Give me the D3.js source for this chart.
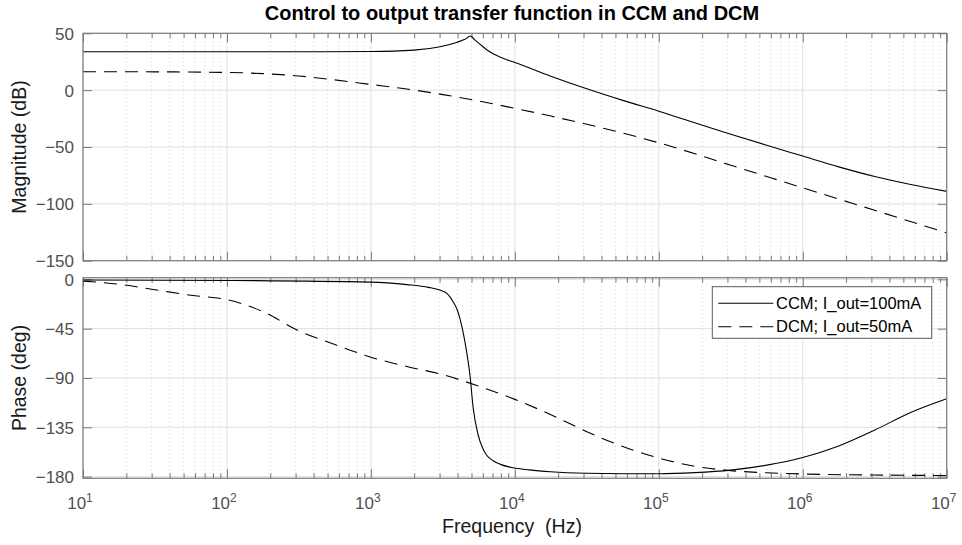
<!DOCTYPE html>
<html>
<head>
<meta charset="utf-8">
<script src="https://cdn.jsdelivr.net/npm/d3@7"></script>
<style>
  html, body { margin: 0; padding: 0; background: #fff; }
  svg { display: block; }
  text { font-family: "Liberation Sans", Arial, Helvetica, sans-serif; }
</style>
</head>
<body>
<svg id="chart" width="962" height="545"></svg>
<script>
// Bode data: frequency (Hz) with magnitude (dB) / phase (deg)
const ccmMagHz = [10, 100, 316, 1000, 1995, 3020, 3981, 4498, 4920, 5248, 5715, 6310, 7079, 7943, 8913, 10000, 17783, 31623, 56234, 1e5, 177828, 316228, 562341, 1e6, 1778279, 3162278, 5623413, 1e7];
const ccmMagDb = [33.8, 33.8, 33.8, 34.0, 35.2, 38.2, 42.2, 44.7, 47.6, 44.5, 40.5, 36.0, 32.0, 29.0, 26.5, 24.3, 12.3, 1.2, -9.0, -18.5, -28.7, -38.8, -48.5, -58.0, -67.5, -76.0, -83.0, -89.0];

const dcmMagHz = [10, 31.6, 100, 178, 316, 562, 1000, 1778, 3162, 5623, 10000, 17783, 31623, 56234, 1e5, 316228, 1e6, 3162278, 1e7];
const dcmMagDb = [16.2, 16.1, 15.6, 14.5, 12.5, 9.0, 5.0, 1.0, -3.9, -9.6, -16.0, -22.8, -30.0, -37.8, -46.3, -66.0, -85.9, -105.7, -125.5];

const ccmPhaseHz = [10, 100, 1000, 1778, 2512, 3013, 3388, 3724, 3981, 4150, 4498, 4875, 5140, 5559, 6026, 6353, 7079, 7943, 9727, 12589, 17783, 31623, 56234, 1e5, 177828, 316228, 562341, 1e6, 1778279, 3162278, 5623413, 1e7];
const ccmPhaseDeg = [-0.6, -1.0, -2.5, -4.8, -7.3, -9.8, -13, -20.4, -28, -35.6, -56.9, -87.3, -117.7, -142, -155, -160.3, -165.5, -168.8, -171.9, -173.8, -175.5, -176.9, -177.3, -177.3, -176.3, -174, -169.5, -162.5, -152, -137.5, -121.5, -109];

const dcmPhaseHz = [10, 17.8, 31.6, 56.2, 100, 178, 316, 562, 1000, 1778, 3162, 5623, 10000, 17783, 31623, 56234, 1e5, 177828, 316228, 562341, 1e6, 3162278, 1e7];
const dcmPhaseDeg = [-1.6, -4.5, -9.5, -14.5, -18.5, -29.5, -47, -59.5, -71, -79.5, -87, -97.5, -109.5, -123.5, -139, -152.5, -163, -170.5, -174.5, -176.5, -177.6, -178.5, -179];

const legendLabels = ["CCM; I_out=100mA", "DCM; I_out=50mA"];
const magTicks = [50, 0, -50, -100, -150];
const phaseTicks = [0, -45, -90, -135, -180];
const decadeTicks = [1e1, 1e2, 1e3, 1e4, 1e5, 1e6, 1e7];

const svg = d3.select("#chart");
const left = 83, right = 946.7;
const magTop = 33.3, magBottom = 260.7;
const phTop = 277.7, phBottom = 478.3;

const x = d3.scaleLog().domain([1e1, 1e7]).range([left, right]);
const yMag = d3.scaleLinear().domain([-150, 50]).range([magBottom, magTop]);
const yPh = d3.scaleLinear().domain([-181.5, 1.5]).range([phBottom, phTop]);

// minor decade ticks 2..9 x 10^k
const minorTicks = [];
for (let k = 1; k < 7; k++) for (let m = 2; m <= 9; m++) minorTicks.push(m * Math.pow(10, k));

const gridMajor = "#dfdfdf", gridMinor = "#c4c4c4", axisCol = "#7a7a7a", tickText = "#505050";

function panel(id, y, top, bottom, ticks, series) {
  const g = svg.append("g");
  // minor vertical grid (dotted)
  g.selectAll(null).data(minorTicks).join("line")
    .attr("x1", d => x(d)).attr("x2", d => x(d))
    .attr("y1", top).attr("y2", bottom)
    .attr("stroke", gridMinor).attr("stroke-width", 0.8).attr("stroke-dasharray", "1,3");
  // major grid
  g.selectAll(null).data(decadeTicks).join("line")
    .attr("x1", d => x(d)).attr("x2", d => x(d))
    .attr("y1", top).attr("y2", bottom)
    .attr("stroke", gridMajor).attr("stroke-width", 1);
  g.selectAll(null).data(ticks).join("line")
    .attr("x1", left).attr("x2", right)
    .attr("y1", d => y(d)).attr("y2", d => y(d))
    .attr("stroke", gridMajor).attr("stroke-width", 1);

  // axes: ticks drawn inward on all four sides
  const styleAxis = sel => {
    sel.select(".domain").remove();
    sel.selectAll(".tick line").attr("stroke", axisCol).attr("stroke-width", 1);
    sel.selectAll(".tick text").attr("fill", tickText).attr("font-size", 17);
  };
  g.append("g").attr("transform", `translate(0,${bottom})`)
    .call(d3.axisBottom(x).tickValues(minorTicks).tickSize(-5).tickSizeOuter(0).tickFormat(""))
    .call(styleAxis);
  g.append("g").attr("transform", `translate(0,${top})`)
    .call(d3.axisTop(x).tickValues(minorTicks).tickSize(-5).tickSizeOuter(0).tickFormat(""))
    .call(styleAxis);
  g.append("g").attr("transform", `translate(0,${top})`)
    .call(d3.axisTop(x).tickValues(decadeTicks).tickSize(-9).tickSizeOuter(0).tickFormat(""))
    .call(styleAxis);
  g.append("g").attr("transform", `translate(0,${bottom})`)
    .call(d3.axisBottom(x).tickValues(decadeTicks).tickSize(-9).tickSizeOuter(0).tickFormat(""))
    .call(styleAxis);
  g.append("g").attr("transform", `translate(${left},0)`)
    .call(d3.axisLeft(y).tickValues(ticks).tickSize(-9).tickPadding(9).tickSizeOuter(0))
    .call(styleAxis)
    .selectAll(".tick text").attr("dy", "0.35em");
  g.append("g").attr("transform", `translate(${right},0)`)
    .call(d3.axisRight(y).tickValues(ticks).tickSize(-9).tickSizeOuter(0).tickFormat(""))
    .call(styleAxis);

  // curves
  const clipId = "clip-" + id;
  svg.append("clipPath").attr("id", clipId).append("rect")
    .attr("x", left).attr("y", top).attr("width", right - left).attr("height", bottom - top);
  const line = d3.line().x(d => x(d[0])).y(d => y(d[1])).curve(d3.curveMonotoneX);
  series.forEach((s, i) => {
    g.append("path")
      .datum(s.hz.map((f, j) => [f, s.v[j]]))
      .attr("clip-path", `url(#${clipId})`)
      .attr("fill", "none").attr("stroke", "#000").attr("stroke-width", 1.1)
      .attr("stroke-dasharray", i === 1 ? "13,8" : null)
      .attr("d", line);
  });

  // box
  g.append("rect").attr("x", left).attr("y", top).attr("width", right - left).attr("height", bottom - top)
    .attr("fill", "none").attr("stroke", axisCol).attr("stroke-width", 1.2);
  return g;
}

panel("mag", yMag, magTop, magBottom, magTicks, [
  { hz: ccmMagHz, v: ccmMagDb }, { hz: dcmMagHz, v: dcmMagDb }
]);
const phG = panel("ph", yPh, phTop, phBottom, phaseTicks, [
  { hz: ccmPhaseHz, v: ccmPhaseDeg }, { hz: dcmPhaseHz, v: dcmPhaseDeg }
]);

// decade labels 10^k under the phase panel
phG.selectAll(null).data(decadeTicks).join("text")
  .attr("x", d => x(d) - 3).attr("y", 508.5)
  .attr("text-anchor", "middle").attr("fill", tickText).attr("font-size", 17)
  .each(function (d) {
    const t = d3.select(this);
    t.append("tspan").text("10");
    t.append("tspan").attr("font-size", 12).attr("dy", -7).text(Math.round(Math.log10(d)));
  });

// titles and axis labels
svg.append("text").attr("x", 512).attr("y", 20).attr("text-anchor", "middle")
  .attr("font-size", 20).attr("font-weight", "bold").attr("fill", "#000")
  .text("Control to output transfer function in CCM and DCM");
svg.append("text").attr("x", 512).attr("y", 533).attr("text-anchor", "middle")
  .style("white-space", "pre")
  .attr("font-size", 19.5).attr("fill", "#1a1a1a").text("Frequency  (Hz)");
svg.append("text").attr("transform", `translate(26,${(magTop + magBottom) / 2}) rotate(-90)`)
  .attr("text-anchor", "middle").attr("font-size", 19.5).attr("fill", "#1a1a1a").text("Magnitude (dB)");
svg.append("text").attr("transform", `translate(26,${(phTop + phBottom) / 2}) rotate(-90)`)
  .attr("text-anchor", "middle").attr("font-size", 19.5).attr("fill", "#1a1a1a").text("Phase (deg)");

// legend
const lg = svg.append("g");
lg.append("rect").attr("x", 712.3).attr("y", 286.7).attr("width", 219.4).attr("height", 51.6)
  .attr("fill", "#fff").attr("stroke", "#5a5a5a").attr("stroke-width", 1);
legendLabels.forEach((lab, i) => {
  const cy = 303.3 + i * 23.4;
  lg.append("line").attr("x1", 718.3).attr("x2", 773.3).attr("y1", cy).attr("y2", cy)
    .attr("stroke", "#000").attr("stroke-width", 1.1)
    .attr("stroke-dasharray", i === 1 ? "13,8" : null);
  lg.append("text").attr("x", 776).attr("y", cy).attr("dy", "0.35em")
    .attr("font-size", 16.5).attr("fill", "#000").text(lab);
});
</script>
</body>
</html>
